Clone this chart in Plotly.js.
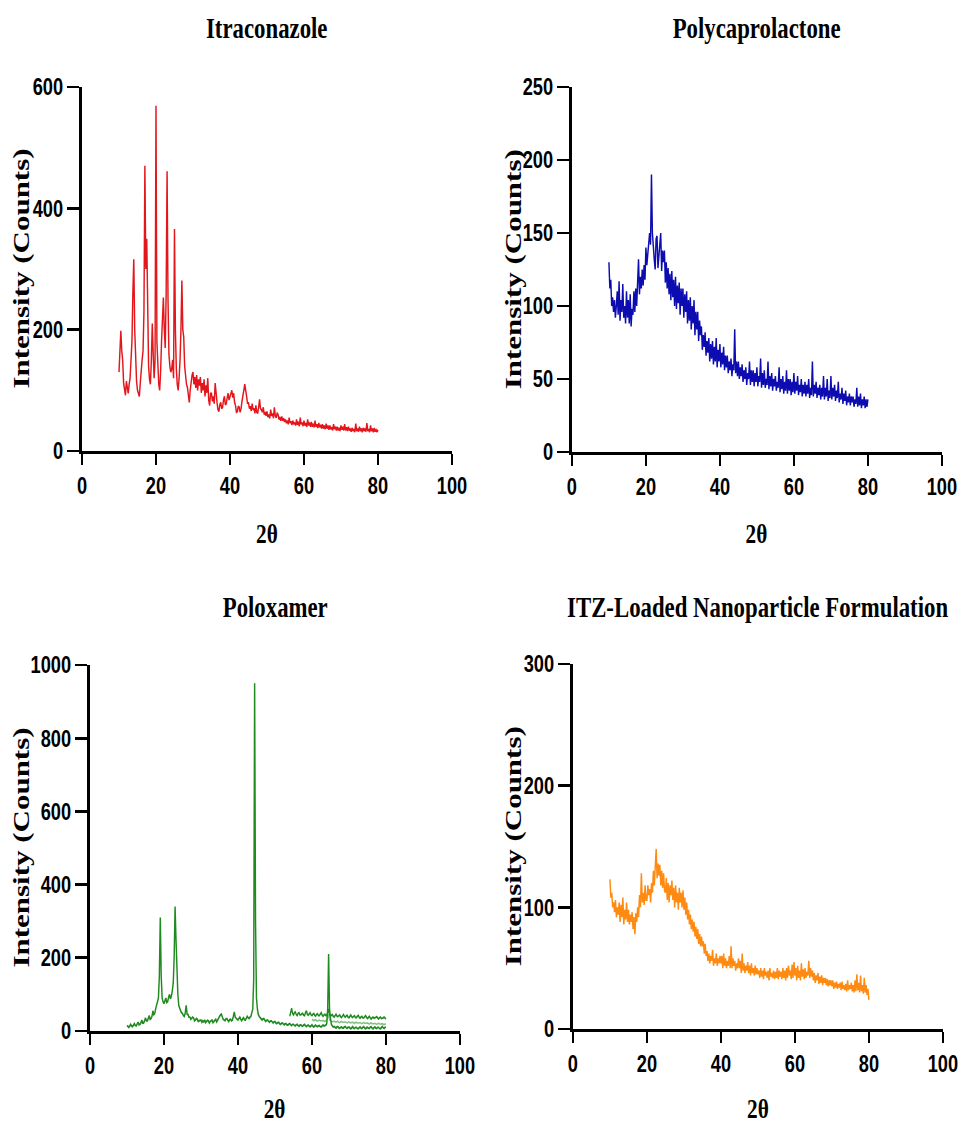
<!DOCTYPE html>
<html>
<head>
<meta charset="utf-8">
<script src="https://cdn.plot.ly/plotly-3.0.1.min.js"></script>
<style>
html,body{margin:0;padding:0;overflow:hidden;background:#fff;width:960px;height:1125px;}
#chart{height:1125px;transform-origin:0 0;}
</style>
</head>
<body>
<div id="chart"></div>
<script>
// ---- data (2θ grid: start + step, intensity) ----
const ANGLE_START = 10;
const ANGLE_STEP = 0.25;

const itraconazole = [
  130,170,198,165,150,112,100,92,115,104,95,110,120,150,180,260,316,200,150,115,
  100,95,90,112,135,150,165,230,470,300,350,200,140,118,110,150,210,160,120,150,
  569,180,150,110,100,130,180,220,253,200,170,260,461,250,160,140,130,135,150,120,
  366,200,135,110,100,120,150,200,281,200,188,140,120,110,105,90,80,100,115,125,
  130,110,122,104,125,100,118,108,122,96,112,100,118,90,108,96,120,84,75,95,
  95,82,90,78,112,90,80,68,65,76,80,70,72,84,90,76,78,88,95,84,
  90,96,100,88,95,80,75,64,65,74,72,64,70,82,95,100,110,96,90,78,
  80,70,74,66,78,68,70,62,75,64,62,72,85,70,68,64,72,60,64,58,
  65,56,60,54,68,58,62,54,72,58,55,62,60,52,56,50,57,50,54,48,
  52,46,50,44,55,46,49,43,50,44,47,42,52,43,48,41,55,44,47,41,
  50,42,46,40,52,42,47,40,48,40,45,39,50,40,44,38,46,39,43,37,
  44,37,42,36,45,37,42,35,42,36,39,34,44,36,40,34,40,34,38,33,
  42,35,40,34,44,34,39,33,40,34,37,32,38,33,36,31,45,33,37,32,
  40,33,37,31,38,33,37,32,46,33,36,31,42,33,37,31,38,32,35,31,
  35
];

const polycaprolactone = [
  130,112,118,100,106,96,104,92,100,110,94,117,90,104,96,115,92,100,88,110,
  92,104,88,108,86,98,94,110,96,112,100,116,132,108,120,112,125,114,128,118,
  140,128,136,146,150,142,190,150,138,132,125,146,148,126,134,142,150,124,138,130,
  138,116,130,112,126,108,122,104,124,106,118,100,120,98,114,102,116,94,112,100,
  112,92,108,96,110,88,104,90,106,84,100,88,104,80,96,84,96,76,90,80,
  86,70,80,72,82,66,76,68,78,62,74,64,76,60,72,62,78,58,70,62,
  74,58,68,60,72,56,66,58,66,54,62,56,64,52,60,56,84,54,62,52,
  62,50,58,52,60,48,56,50,58,46,54,50,62,46,56,48,56,45,54,48,
  58,45,52,48,64,44,54,46,56,44,50,46,62,43,52,45,54,42,50,45,
  52,42,48,44,58,41,50,43,52,40,48,42,56,40,50,42,50,39,48,41,
  54,40,48,42,52,39,46,41,50,38,46,40,48,38,46,40,50,37,44,39,
  62,38,46,40,48,37,44,39,46,36,44,38,52,36,44,38,50,35,42,37,
  52,36,44,38,46,35,42,37,48,34,40,36,44,33,40,35,42,32,38,34,
  40,32,38,34,38,31,36,33,44,31,38,32,40,30,36,32,38,30,36,31,
  36
];

const poloxamer = [
  15,12,10,14,18,13,12,16,20,15,14,19,24,17,18,22,30,22,22,28,
  36,28,28,34,42,32,34,40,55,45,48,60,70,80,90,150,310,150,90,80,
  75,82,90,78,80,92,100,88,95,110,130,200,340,250,160,100,70,60,55,50,
  48,42,40,50,70,46,45,38,38,32,34,38,36,28,30,34,32,26,28,30,
  30,24,28,25,30,23,27,29,28,22,26,27,30,23,26,28,32,25,30,34,
  38,44,46,36,32,30,28,33,34,29,26,31,32,28,30,40,52,38,34,32,
  30,34,38,32,28,33,36,31,30,35,40,36,34,38,40,50,60,140,950,300,
  90,60,45,40,36,34,30,33,34,30,26,29,30,27,24,27,28,25,22,25,
  26,22,20,23,24,20,18,21,22,19,17,20,20,17,16,19,20,17,15,18,
  18,15,14,17,18,15,13,16,17,14,13,16,18,14,12,15,16,13,12,14,
  17,13,11,14,16,13,12,14,15,12,11,14,16,14,14,16,20,60,210,60,
  35,18,14,11,12,9,8,11,12,9,7,10,11,8,8,11,12,9,7,10,
  11,8,6,9,12,8,7,10,10,7,6,9,11,8,7,10,12,8,6,9,
  10,8,7,10,12,8,6,9,11,8,7,10,10,7,6,9,12,9,7,10,
  10
];
const POLOX_UPPER_START = 54;
const poloxamerUpper = [
  40,55,62,48,44,50,52,45,42,48,50,44,44,47,48,43,42,50,55,46,
  43,47,50,44,42,46,48,43,41,45,47,42,42,46,50,44,40,44,46,42,
  42,50,60,45,40,43,45,40,38,42,46,41,39,42,44,39,37,41,45,40,
  38,41,43,38,36,40,44,39,37,40,42,37,36,40,43,38,35,38,40,36,
  36,39,42,37,34,37,40,36,33,36,38,35,35,37,39,35,33,36,38,34,
  34,36,38,35,33
];
const POLOX_MIDDLE_START = 60;
const poloxamerMiddle = [
  32,30,28,30,31,28,27,29,30,28,27,28,29,27,26,28,30,36,45,30,
  28,26,25,26,27,25,24,26,27,24,23,25,26,24,23,24,25,23,22,24,
  25,23,22,23,24,22,21,23,24,22,21,22,23,21,20,22,23,21,20,21,
  22,20,19,21,22,20,19,20,21,19,18,20,21,19,18,19,20,18,17,19,
  19
];

const nanoparticle = [
  123,108,112,100,104,96,106,92,100,94,104,88,102,92,108,86,98,90,104,88,
  98,86,94,88,96,82,92,78,95,88,100,92,110,100,128,104,112,102,118,106,
  106,118,110,115,104,120,112,130,118,138,148,124,136,126,135,118,130,116,128,114,
  112,124,106,120,104,118,110,122,106,116,100,118,104,112,98,116,104,112,100,114,
  98,108,94,104,90,98,86,94,82,90,80,88,76,84,74,82,70,78,68,76,
  68,72,62,70,60,64,56,62,54,60,56,65,52,58,54,62,52,58,54,60,
  54,60,50,62,52,58,50,56,52,60,50,68,50,58,52,56,48,54,50,58,
  50,56,46,62,48,54,46,52,48,55,46,52,44,54,46,50,44,52,45,50,
  45,48,42,50,43,48,41,50,44,47,42,48,40,50,43,46,42,48,41,47,
  42,50,41,48,43,47,41,50,42,48,40,50,42,52,44,48,41,53,42,55,
  44,50,40,52,42,48,40,54,43,49,41,50,42,47,44,56,42,50,43,48,
  40,46,38,44,40,46,37,43,38,44,36,42,38,42,36,41,35,40,36,40,
  35,40,33,38,34,39,33,37,34,38,32,39,33,36,32,37,31,40,32,36,
  33,38,31,36,30,40,31,45,32,38,30,44,31,36,29,42,30,36,28,33,
  24
];

const panelTitles = ["Itraconazole", "Polycaprolactone", "Poloxamer", "ITZ-Loaded Nanoparticle Formulation"];
const xTitle = "2θ";
const yTitle = "Intensity (Counts)";
const yRanges = [[0,600],[0,250],[0,1000],[0,300]];
const yDticks = [200, 50, 200, 100];

// ---- rendering ----
const SX = 0.76;               // horizontal squeeze of the original figure
const W = Math.round(960 / SX);
document.getElementById('chart').style.width = W + 'px';
document.getElementById('chart').style.transform = 'scaleX(' + SX + ')';

const FW = 960, FH = 1125;
// plot boxes in screen pixels: [left, right, bottom(y=0), top]
const boxes = [
  [82, 452, 451, 87],
  [572, 942, 452, 87],
  [90, 460, 1031, 665],
  [573, 943, 1029, 664]
];
const colors = ['#e3161b', '#0c0cb0', '#1f8a1f', '#ff8a12'];

function line(c, w) { return {color: c, width: w}; }

const traces = [
  {x0: ANGLE_START, dx: ANGLE_STEP, y: itraconazole, xaxis:'x', yaxis:'y', line: line(colors[0], 1.9)},
  {x0: ANGLE_START, dx: ANGLE_STEP, y: polycaprolactone, xaxis:'x2', yaxis:'y2', line: line(colors[1], 1.9)},
  {x0: ANGLE_START, dx: ANGLE_STEP, y: poloxamer, xaxis:'x3', yaxis:'y3', line: line(colors[2], 1.9)},
  {x0: POLOX_UPPER_START, dx: ANGLE_STEP, y: poloxamerUpper, xaxis:'x3', yaxis:'y3', line: line(colors[2], 1.8)},
  {x0: POLOX_MIDDLE_START, dx: ANGLE_STEP, y: poloxamerMiddle, xaxis:'x3', yaxis:'y3', opacity: 0.55, line: line(colors[2], 1.6)},
  {x0: ANGLE_START, dx: ANGLE_STEP, y: nanoparticle, xaxis:'x4', yaxis:'y4', line: line(colors[3], 1.9)}
].map(t => Object.assign({type:'scatter', mode:'lines', hoverinfo:'skip'}, t));

const tickFont = {family:'"Liberation Sans", Arial, sans-serif', size:24, color:'#000', weight:'bold'};
const serifFont = {family:'"Liberation Serif", "Times New Roman", serif', color:'#000', weight:'bold'};

const layout = {
  width: W, height: FH,
  margin: {l:0, r:0, t:0, b:0},
  paper_bgcolor:'#fff', plot_bgcolor:'#fff',
  showlegend:false,
  annotations: []
};

boxes.forEach((b, i) => {
  const n = i === 0 ? '' : String(i + 1);
  const [l, r, bot, top] = b;
  layout['xaxis' + n] = {
    domain: [l / FW, r / FW], anchor: 'y' + n,
    range: [0, 100], tick0: 0, dtick: 20,
    ticks: 'outside', ticklen: 11, tickwidth: 3.3, tickcolor: '#000',
    showline: true, linewidth: 3, linecolor: '#000',
    showgrid: false, zeroline: false,
    tickfont: tickFont, ticklabelstandoff: 0
  };
  layout['yaxis' + n] = {
    domain: [1 - bot / FH, 1 - top / FH], anchor: 'x' + n,
    range: yRanges[i], tick0: 0, dtick: yDticks[i],
    ticks: 'outside', ticklen: 16, tickwidth: 2.6, tickcolor: '#000',
    showline: true, linewidth: 4, linecolor: '#000',
    showgrid: false, zeroline: false,
    tickfont: tickFont
  };
  const cx = (l + r) / 2 / FW;
  const cy = 1 - (bot + top) / 2 / FH;
  const titleY = i < 2 ? 27 : 606;
  const xTitleY = i < 2 ? 533 : 1108;
  const yTitleX = i % 2 === 0 ? 21 : 513;
  layout.annotations.push(
    {text: panelTitles[i], xref:'paper', yref:'paper', x: cx, y: 1 - titleY / FH,
     xanchor:'center', yanchor:'middle', showarrow:false, font: Object.assign({size:30}, serifFont)},
    {text: xTitle, xref:'paper', yref:'paper', x: cx, y: 1 - xTitleY / FH,
     xanchor:'center', yanchor:'middle', showarrow:false, font: Object.assign({size:28}, serifFont)},
    {text: yTitle, xref:'paper', yref:'paper', x: yTitleX / FW, y: cy, textangle: -90,
     xanchor:'center', yanchor:'middle', showarrow:false, font: Object.assign({size:31}, serifFont)}
  );
});

Plotly.newPlot('chart', traces, layout, {staticPlot:true, displayModeBar:false});
</script>
</body>
</html>
